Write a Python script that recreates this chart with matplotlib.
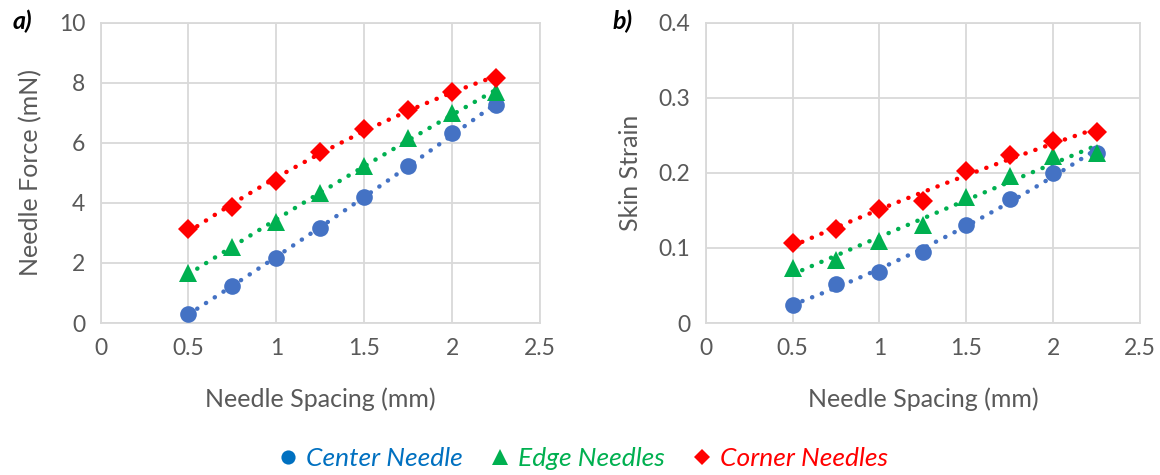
import numpy as np
import matplotlib
matplotlib.use("Agg")
import matplotlib.pyplot as plt
from matplotlib.lines import Line2D

plt.rcParams['font.family'] = ['Lato', 'DejaVu Sans']

spacing = [0.5, 0.75, 1.0, 1.25, 1.5, 1.75, 2.0, 2.25]

force_center = [0.31, 1.24, 2.16, 3.17, 4.21, 5.23, 6.32, 7.26]
force_edge = [1.68, 2.52, 3.36, 4.32, 5.24, 6.15, 6.98, 7.70]
force_corner = [3.14, 3.86, 4.72, 5.68, 6.45, 7.10, 7.70, 8.16]

strain_center = [0.024, 0.052, 0.068, 0.094, 0.130, 0.165, 0.200, 0.227]
strain_edge = [0.073, 0.084, 0.109, 0.131, 0.168, 0.196, 0.222, 0.226]
strain_corner = [0.106, 0.125, 0.152, 0.162, 0.203, 0.224, 0.242, 0.254]

series_names = ["Center Needle", "Edge Needles", "Corner Needles"]
marker_colors = ["#4472C4", "#00B050", "#FF0000"]
text_colors = ["#0070C0", "#00B050", "#FF0000"]
markers = ["o", "^", "D"]
marker_sizes = [12, 13, 10]

x_ticks = [0, 0.5, 1, 1.5, 2, 2.5]
x_tick_labels = ["0", "0.5", "1", "1.5", "2", "2.5"]
force_ticks = [0, 2, 4, 6, 8, 10]
force_tick_labels = ["0", "2", "4", "6", "8", "10"]
strain_ticks = [0, 0.1, 0.2, 0.3, 0.4]
strain_tick_labels = ["0", "0.1", "0.2", "0.3", "0.4"]

W, H = 1160, 475
fig = plt.figure(figsize=(W / 100, H / 100), dpi=100)


def px_axes(left, top, right, bottom):
    return fig.add_axes([left / W, 1 - bottom / H, (right - left) / W, (bottom - top) / H])


ax_a = px_axes(100.5, 22.7, 540, 323)
ax_b = px_axes(705.7, 22.7, 1140, 323)

grey_text = "#595959"
grid_col = "#D9D9D9"


def draw_panel(ax, series, yticks, ylabels, ylabel, tag, tag_x):
    x = np.array(spacing)
    xs = np.linspace(x.min(), x.max(), 100)
    for vals, mc, mk, ms in zip(series, marker_colors, markers, marker_sizes):
        # dotted quadratic trendline through each series
        coef = np.polyfit(x, vals, 2)
        ax.plot(xs, np.polyval(coef, xs), linestyle=(0, (0.05, 2.3)), color=mc,
                linewidth=3.2, dash_capstyle='round', zorder=2)
        ax.plot(x, vals, linestyle='none', marker=mk, color=mc,
                markersize=ms, markeredgewidth=0, zorder=3)
    ax.set_xlim(0, 2.5)
    ax.set_ylim(yticks[0], yticks[-1])
    ax.set_xticks(x_ticks)
    ax.set_xticklabels(x_tick_labels)
    ax.set_yticks(yticks)
    ax.set_yticklabels(ylabels)
    ax.grid(True, color=grid_col, linewidth=1.3)
    ax.set_axisbelow(True)
    for s in ax.spines.values():
        s.set_color(grid_col)
        s.set_linewidth(1.3)
    ax.tick_params(length=0, labelsize=16.5, colors=grey_text, pad=11)
    ax.set_xlabel("Needle Spacing (mm)", fontsize=18, color=grey_text, labelpad=20)
    ax.set_ylabel(ylabel, fontsize=18, color=grey_text, labelpad=12)
    fig.text(tag_x / W, 1 - 21 / H, tag, fontsize=18, fontweight='bold',
             fontstyle='italic', color='black', ha='center', va='center')


draw_panel(ax_a, [force_center, force_edge, force_corner],
           force_ticks, force_tick_labels, "Needle Force (mN)", "a)", 22)
draw_panel(ax_b, [strain_center, strain_edge, strain_corner],
           strain_ticks, strain_tick_labels, "Skin Strain", "b)", 623)

handles = [Line2D([], [], linestyle='none', marker=mk, color=tc, markersize=ms * 0.85,
                  markeredgewidth=0)
           for mk, tc, ms in zip(markers, text_colors, marker_sizes)]
leg = fig.legend(handles, series_names, loc='center', bbox_to_anchor=(580 / W, 1 - 459 / H),
                 ncol=3, frameon=False, handletextpad=0.1, columnspacing=0.8,
                 handlelength=1.2, prop={'size': 19, 'style': 'italic'})
for t, c in zip(leg.get_texts(), text_colors):
    t.set_color(c)

fig.savefig("out.png", dpi=100)
